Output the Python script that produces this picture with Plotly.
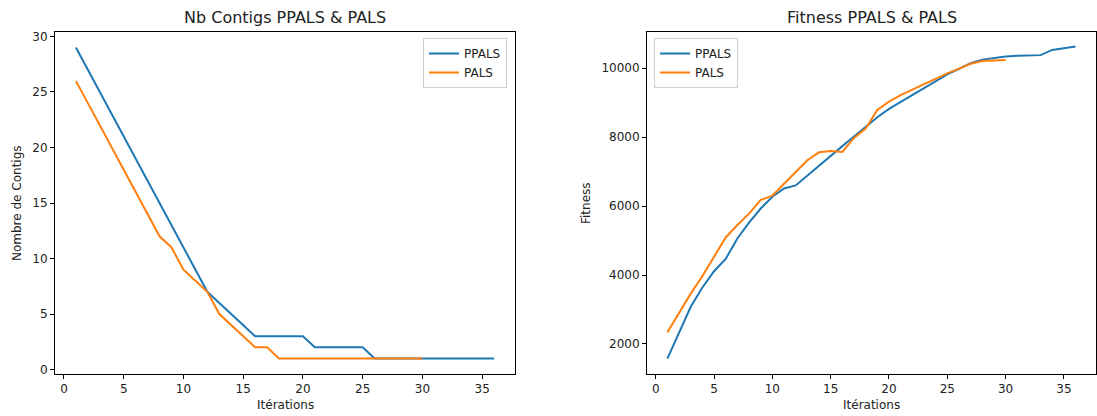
import plotly.graph_objects as go

iter_ppals = list(range(1, 37))
iter_pals = list(range(1, 31))

contigs_ppals = [29, 27, 25, 23, 21, 19, 17, 15, 13, 11, 9, 7, 6, 5, 4, 3, 3, 3, 3, 3,
                 2, 2, 2, 2, 2, 1, 1, 1, 1, 1, 1, 1, 1, 1, 1, 1]
contigs_pals = [26, 24, 22, 20, 18, 16, 14, 12, 11, 9, 8, 7, 5, 4, 3, 2, 2, 1, 1, 1,
                1, 1, 1, 1, 1, 1, 1, 1, 1, 1]

fitness_ppals = [1575, 2330, 3080, 3640, 4110, 4470, 5060, 5520, 5930, 6270,
                 6510, 6600, 6890, 7180, 7460, 7740, 8020, 8300, 8580, 8820,
                 9020, 9220, 9410, 9610, 9820, 9980, 10150, 10250, 10300, 10340,
                 10360, 10370, 10380, 10530, 10580, 10630]
fitness_pals = [2340, 2900, 3460, 3970, 4540, 5090, 5450, 5780, 6180, 6300,
                6650, 6990, 7330, 7560, 7600, 7570, 7980, 8250, 8790, 9030,
                9220, 9380, 9540, 9700, 9850, 9990, 10130, 10210, 10235, 10240]

BLUE = "#1f77b4"
ORANGE = "#ff7f0e"
FONT = "DejaVu Sans"
TXT = "#222"

fig = go.Figure()
fig.add_trace(go.Scatter(x=iter_ppals, y=contigs_ppals, mode="lines", name="PPALS",
                         line=dict(color=BLUE, width=2), xaxis="x", yaxis="y", legend="legend"))
fig.add_trace(go.Scatter(x=iter_pals, y=contigs_pals, mode="lines", name="PALS",
                         line=dict(color=ORANGE, width=2), xaxis="x", yaxis="y", legend="legend"))
fig.add_trace(go.Scatter(x=iter_ppals, y=fitness_ppals, mode="lines", name="PPALS",
                         line=dict(color=BLUE, width=2), xaxis="x2", yaxis="y2", legend="legend2"))
fig.add_trace(go.Scatter(x=iter_pals, y=fitness_pals, mode="lines", name="PALS",
                         line=dict(color=ORANGE, width=2), xaxis="x2", yaxis="y2", legend="legend2"))

W, H = 1097, 416
axis_common = dict(showgrid=False, zeroline=False, showline=True, linecolor="black", linewidth=1,
                   mirror=True, ticks="outside", ticklen=4, tickcolor="black", automargin=False,
                   tickfont=dict(family=FONT, size=12, color=TXT))

xd1 = [55 / W, 515 / W]
xd2 = [647 / W, 1096 / W]
yd = [1 - 374 / H, 1 - 32 / H]


def ann(text, x, y, size=12, angle=0):
    return dict(text=text, x=x, y=y, xref="paper", yref="paper", showarrow=False,
                xanchor="center", yanchor="middle", textangle=angle,
                font=dict(family=FONT, size=size, color=TXT))


fig.update_layout(
    width=W, height=H,
    margin=dict(l=0, r=0, t=0, b=0),
    paper_bgcolor="white", plot_bgcolor="white",
    font=dict(family=FONT, color=TXT),
    xaxis=dict(domain=xd1, range=[-0.75, 37.75], dtick=5, tick0=0, anchor="y", **axis_common),
    yaxis=dict(domain=yd, range=[-0.4, 30.4], dtick=5, tick0=0, anchor="x", **axis_common),
    xaxis2=dict(domain=xd2, range=[-0.75, 37.75], dtick=5, tick0=0, anchor="y2", **axis_common),
    yaxis2=dict(domain=yd, range=[1129, 11051], dtick=2000, tick0=0, anchor="x2",
                tickformat="d", **axis_common),
    legend=dict(x=507 / W, y=1 - 38 / H, xanchor="right", yanchor="top",
                bordercolor="#d0d0d0", borderwidth=1, bgcolor="rgba(255,255,255,0.8)",
                font=dict(family=FONT, size=12, color=TXT)),
    legend2=dict(x=654 / W, y=1 - 38 / H, xanchor="left", yanchor="top",
                 bordercolor="#d0d0d0", borderwidth=1, bgcolor="rgba(255,255,255,0.8)",
                 font=dict(family=FONT, size=12, color=TXT)),
    annotations=[
        ann("Nb Contigs PPALS & PALS", (xd1[0] + xd1[1]) / 2, 1 - 18 / H, size=16),
        ann("Fitness PPALS & PALS", (xd2[0] + xd2[1]) / 2, 1 - 18 / H, size=16),
        ann("Itérations", (xd1[0] + xd1[1]) / 2, 1 - 405 / H),
        ann("Itérations", (xd2[0] + xd2[1]) / 2, 1 - 405 / H),
        ann("Nombre de Contigs", 17 / W, 1 - 203 / H, angle=-90),
        ann("Fitness", 586 / W, 1 - 203 / H, angle=-90),
    ],
)

fig.write_html("out.html", config={"displayModeBar": False},
               post_script="document.body.style.margin='0';document.body.style.overflow='hidden';")
